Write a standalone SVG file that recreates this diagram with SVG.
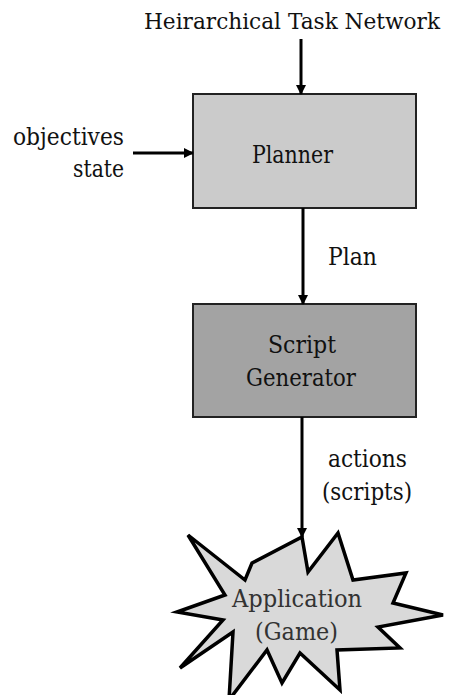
<svg xmlns="http://www.w3.org/2000/svg" width="450" height="695" viewBox="0 0 450 695">
<style>
text{font-family:"DejaVu Serif","Liberation Serif",serif;font-size:25px;fill:#111}
.box{stroke:#222;stroke-width:2}
.c{stroke:#000;stroke-width:3;fill:none}
</style>
<defs>
<marker id="ah" markerWidth="10" markerHeight="10" refX="9" refY="5" orient="auto" markerUnits="userSpaceOnUse">
<path d="M0,0 L10,5 L0,10 Z" fill="#000"/>
</marker>
</defs>
<rect width="450" height="695" fill="#fff"/>
<g id="htn"><text x="292" y="29" text-anchor="middle" style="font-size:22px" textLength="296" lengthAdjust="spacingAndGlyphs">Heirarchical Task Network</text></g>
<g id="inputs"><text x="13" y="145" textLength="111" lengthAdjust="spacingAndGlyphs">objectives</text><text x="73" y="177" textLength="51" lengthAdjust="spacingAndGlyphs">state</text></g>
<g id="planner"><rect class="box" x="193" y="94" width="223" height="114" fill="#cbcbcb"/><text x="252" y="163" textLength="81" lengthAdjust="spacingAndGlyphs">Planner</text></g>
<g id="script"><rect class="box" x="193" y="304" width="223" height="113" fill="#a3a3a3"/><text x="268" y="353" textLength="68" lengthAdjust="spacingAndGlyphs">Script</text><text x="246" y="386" textLength="110" lengthAdjust="spacingAndGlyphs">Generator</text></g>
<g id="app"><polygon points="302,537 308,572 338,533 353,580 406,573 393,603 443,615 378,627 400,648 337,650 340,690 300,653 282,683 267,650 229,700 233,632 180,668 223,620 177,612 225,595 188,535 245,580 252,563" fill="#d9d9d9" stroke="#000" stroke-width="3.5" stroke-linejoin="miter"/><text x="232" y="607" textLength="130" lengthAdjust="spacingAndGlyphs" style="fill:#333">Application</text><text x="255" y="640" textLength="83" lengthAdjust="spacingAndGlyphs" style="fill:#333">(Game)</text></g>
<g id="connectors">
<line class="c" x1="301" y1="39" x2="301" y2="94" marker-end="url(#ah)"/>
<line class="c" x1="133" y1="153" x2="193" y2="153" marker-end="url(#ah)"/>
<line class="c" x1="303" y1="208" x2="303" y2="304" marker-end="url(#ah)"/>
<line class="c" x1="302" y1="417" x2="302" y2="537" marker-end="url(#ah)"/>
<text x="328" y="265" textLength="49" lengthAdjust="spacingAndGlyphs">Plan</text>
<text x="328" y="467" textLength="79" lengthAdjust="spacingAndGlyphs">actions</text>
<text x="322" y="500" textLength="90" lengthAdjust="spacingAndGlyphs">(scripts)</text>
</g>
</svg>
